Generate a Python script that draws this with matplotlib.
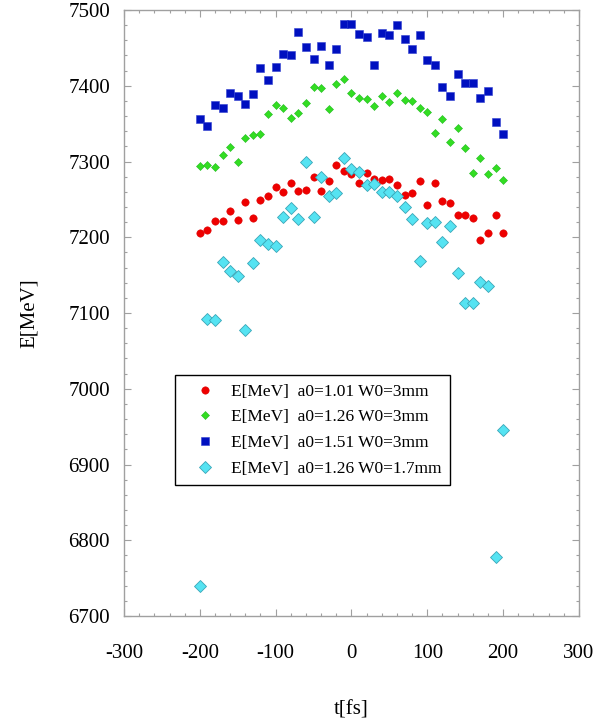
import numpy as np
import matplotlib
matplotlib.use("Agg")
import matplotlib.pyplot as plt
from matplotlib.ticker import MultipleLocator

# time axis [fs], shared by all four series
t_fs = [-200, -190, -180, -170, -160, -150, -140, -130, -120, -110,
        -100, -90, -80, -70, -60, -50, -40, -30, -20, -10,
        0, 10, 20, 30, 40, 50, 60, 70, 80, 90,
        100, 110, 120, 130, 140, 150, 160, 170, 180, 190, 200]

# E[MeV], a0=1.01 W0=3mm
e_a101 = [7205, 7210, 7221, 7222, 7235, 7223, 7246, 7225, 7249, 7255,
          7266, 7260, 7272, 7261, 7263, 7279, 7261, 7274, 7296, 7287,
          7284, 7272, 7285, 7277, 7275, 7277, 7269, 7256, 7258, 7274,
          7243, 7271, 7248, 7245, 7229, 7230, 7225, 7197, 7206, 7229, 7206]

# E[MeV], a0=1.26 W0=3mm
e_a126 = [7294, 7296, 7293, 7309, 7319, 7299, 7331, 7335, 7336, 7363,
          7375, 7370, 7358, 7364, 7377, 7399, 7397, 7369, 7402, 7409,
          7391, 7384, 7383, 7373, 7387, 7379, 7391, 7381, 7380, 7371,
          7366, 7337, 7356, 7326, 7344, 7318, 7285, 7304, 7284, 7292, 7276]

# E[MeV], a0=1.51 W0=3mm
e_a151 = [7356, 7347, 7374, 7371, 7391, 7387, 7376, 7389, 7423, 7408,
          7425, 7442, 7440, 7471, 7451, 7435, 7452, 7427, 7448, 7481,
          7482, 7469, 7465, 7427, 7470, 7467, 7480, 7462, 7448, 7467,
          7434, 7428, 7399, 7387, 7416, 7403, 7403, 7384, 7393, 7352, 7336]

# E[MeV], a0=1.26 W0=1.7mm
e_w17 = [6740, 7092, 7091, 7167, 7156, 7149, 7077, 7166, 7196, 7191,
         7189, 7227, 7239, 7224, 7300, 7227, 7279, 7255, 7258, 7305,
         7290, 7286, 7269, 7270, 7260, 7260, 7254, 7240, 7224, 7169,
         7219, 7220, 7194, 7215, 7153, 7113, 7113, 7141, 7136, 6778, 6945]

labels = ["E[MeV]  a0=1.01 W0=3mm",
          "E[MeV]  a0=1.26 W0=3mm",
          "E[MeV]  a0=1.51 W0=3mm",
          "E[MeV]  a0=1.26 W0=1.7mm"]

plt.rcParams["font.family"] = ["Liberation Serif", "DejaVu Serif"]
plt.rcParams["font.size"] = 15
plt.rcParams["axes.unicode_minus"] = False

fig = plt.figure(figsize=(6.04, 7.21), dpi=100)
ax = fig.add_axes([0.2053, 0.1456, 0.7533, 0.8405])

ax.plot(t_fs, e_a101, "o", ms=5.3, color="#ee0000", mec="#dd0000", mew=0.4, label=labels[0])
ax.plot(t_fs, e_a126, "D", ms=3.6, color="#33dd22", mec="#22bb22", mew=0.4, label=labels[1])
ax.plot(t_fs, e_a151, "s", ms=5.3, color="#0010c0", mec="#3040d0", mew=0.4, label=labels[2])
ax.plot(t_fs, e_w17, "D", ms=6.5, color="#55e3f2", mec="#3aa6b8", mew=0.6, label=labels[3])

ax.set_xlim(-300, 300)
ax.set_ylim(6700, 7500)
ax.xaxis.set_major_locator(MultipleLocator(100))
ax.xaxis.set_minor_locator(MultipleLocator(20))
ax.yaxis.set_major_locator(MultipleLocator(100))
ax.yaxis.set_minor_locator(MultipleLocator(20))

for s in ax.spines.values():
    s.set_color("#a0a0a0")
    s.set_linewidth(1.0)
ax.tick_params(which="both", direction="in", top=True, right=True, color="#a0a0a0")
ax.tick_params(which="major", length=5, width=0.8, labelsize=15)
ax.tick_params(axis="x", which="major", pad=20)
ax.tick_params(axis="y", which="major", pad=10)
ax.tick_params(which="minor", length=2.5, width=0.8)

ax.set_xlabel("t[fs]", fontsize=15, labelpad=27)
ax.set_ylabel("E[MeV]", fontsize=15, labelpad=21)

leg = ax.legend(loc="upper left", bbox_to_anchor=(0.112, 0.398), fancybox=False,
                framealpha=1, edgecolor="black", fontsize=12.5, handlelength=2.5,
                handletextpad=0.2, borderpad=0.5, labelspacing=0.55, borderaxespad=0)
leg.get_frame().set_linewidth(1.0)

fig.savefig("out.png", dpi=100)
